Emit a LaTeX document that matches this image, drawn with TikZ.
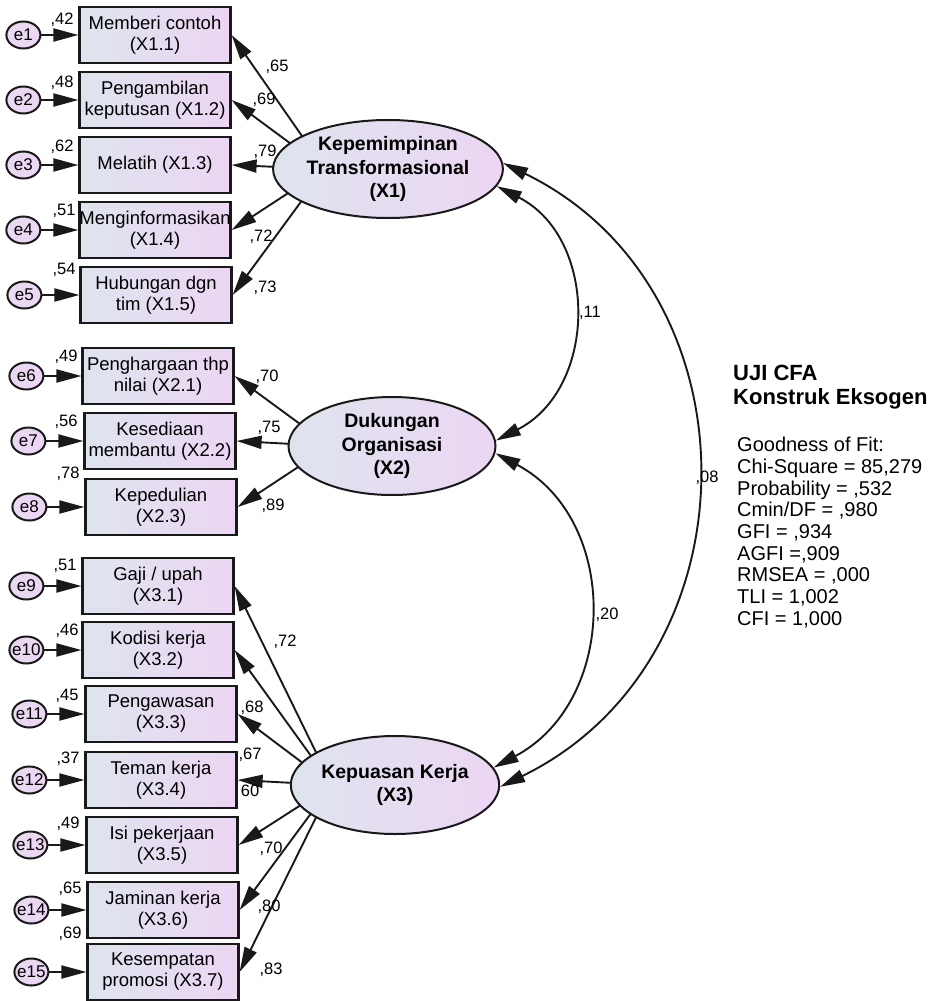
\documentclass[tikz,border=0pt]{standalone}
\usepackage{fontspec}
\setmainfont{Liberation Sans}
\usetikzlibrary{arrows.meta,positioning,shapes.geometric}

\definecolor{leftfill}{RGB}{222,228,238}
\definecolor{rightfill}{RGB}{236,214,243}
\definecolor{edge}{RGB}{25,25,25}

\begin{document}
\begin{tikzpicture}[x=1pt,y=-1pt,
    bigtri/.tip={Triangle[length=25pt,width=13pt]},
    indicator/.style={draw=edge,line width=2.2pt,left color=leftfill,right color=rightfill,
        minimum width=151pt,minimum height=56pt,inner sep=0pt,align=center,
        font=\fontsize{18.5}{21}\selectfont},
    errvar/.style={ellipse,draw=edge,line width=2pt,left color=rightfill!80!leftfill,right color=rightfill,
        minimum width=34pt,minimum height=27pt,inner xsep=-7pt,inner ysep=0pt,
        font=\fontsize{17}{17}\selectfont},
    latent/.style={ellipse,draw=edge,line width=2pt,left color=leftfill,right color=rightfill,
        minimum width=207pt,minimum height=98pt,inner sep=0pt,align=center,
        font=\bfseries\fontsize{19.5}{23.3}\selectfont},
    coef/.style={inner sep=0pt,font=\fontsize{16.5}{16.5}\selectfont},
    errarrow/.style={line width=2pt,draw=edge,-bigtri},
    loading/.style={line width=1.9pt,draw=edge,-bigtri},
    covarc/.style={line width=1.9pt,draw=edge,bigtri-bigtri}]

    \useasboundingbox (0,0) rectangle (937,1001);

    % indicators
    \node[indicator] (b1) at (155,35) {Memberi contoh\\(X1.1)};
    \node[indicator] (b2) at (155,100) {Pengambilan\\keputusan (X1.2)};
    \node[indicator] (b3) at (155,165) {Melatih (X1.3)};
    \node[indicator] (b4) at (155,230) {Menginformasikan\\(X1.4)};
    \node[indicator] (b5) at (156,295) {Hubungan dgn\\tim (X1.5)};
    \node[indicator] (b6) at (158,376) {Penghargaan thp\\nilai (X2.1)};
    \node[indicator] (b7) at (160,441) {Kesediaan\\membantu (X2.2)};
    \node[indicator] (b8) at (161,507) {Kepedulian\\(X2.3)};
    \node[indicator] (b9) at (158,586) {Gaji / upah\\(X3.1)};
    \node[indicator] (b10) at (158,650) {Kodisi kerja\\(X3.2)};
    \node[indicator] (b11) at (161,714) {Pengawasan\\(X3.3)};
    \node[indicator] (b12) at (161,780) {Teman kerja\\(X3.4)};
    \node[indicator] (b13) at (162,845) {Isi pekerjaan\\(X3.5)};
    \node[indicator] (b14) at (163,910) {Jaminan kerja\\(X3.6)};
    \node[indicator] (b15) at (163,972) {Kesempatan\\promosi (X3.7)};

    % error terms
    \node[errvar,left=37pt of b1] (e1) {e1};
    \node[errvar,left=37pt of b2] (e2) {e2};
    \node[errvar,left=37pt of b3] (e3) {e3};
    \node[errvar,left=37pt of b4] (e4) {e4};
    \node[errvar,left=37pt of b5] (e5) {e5};
    \node[errvar,left=37pt of b6] (e6) {e6};
    \node[errvar,left=37pt of b7] (e7) {e7};
    \node[errvar,left=37pt of b8] (e8) {e8};
    \node[errvar,left=37pt of b9] (e9) {e9};
    \node[errvar,left=37pt of b10] (e10) {e10};
    \node[errvar,left=37pt of b11] (e11) {e11};
    \node[errvar,left=37pt of b12] (e12) {e12};
    \node[errvar,left=37pt of b13] (e13) {e13};
    \node[errvar,left=37pt of b14] (e14) {e14};
    \node[errvar,left=37pt of b15] (e15) {e15};

    \draw[errarrow] (e1) -- (b1);
    \draw[errarrow] (e2) -- (b2);
    \draw[errarrow] (e3) -- (b3);
    \draw[errarrow] (e4) -- (b4);
    \draw[errarrow] (e5) -- (b5);
    \draw[errarrow] (e6) -- (b6);
    \draw[errarrow] (e7) -- (b7);
    \draw[errarrow] (e8) -- (b8);
    \draw[errarrow] (e9) -- (b9);
    \draw[errarrow] (e10) -- (b10);
    \draw[errarrow] (e11) -- (b11);
    \draw[errarrow] (e12) -- (b12);
    \draw[errarrow] (e13) -- (b13);
    \draw[errarrow] (e14) -- (b14);
    \draw[errarrow] (e15) -- (b15);

    % loadings start inside the ellipses, which are drawn over them
    \coordinate (f1) at (325,169);
    \coordinate (f2) at (330,446);
    \coordinate (f3) at (332,785);

    \draw[loading] (f1) -- (b1.east);
    \draw[loading] (f1) -- (b2.east);
    \draw[loading] (f1) -- (b3.east);
    \draw[loading] (f1) -- (b4.east);
    \draw[loading] (f1) -- (b5.east);
    \draw[loading] (f2) -- (b6.east);
    \draw[loading] (f2) -- (b7.east);
    \draw[loading] (f2) -- (b8.east);
    \draw[loading] (f3) -- (b9.east);
    \draw[loading] (f3) -- (b10.east);
    \draw[loading] (f3) -- (b11.east);
    \draw[loading] (f3) -- (b12.east);
    \draw[loading] (f3) -- (b13.east);
    \draw[loading] (f3) -- (b14.east);
    \draw[loading] (f3) -- (b15.east);

    % latent variables
    \node[latent] (X1) at (388,169) {Kepemimpinan\\Transformasional\\(X1)};
    \node[latent] (X2) at (392,446) {Dukungan\\Organisasi\\(X2)};
    \node[latent] (X3) at (395,785) {Kepuasan Kerja\\(X3)};

    % covariances
    \draw[covarc] (X1.-9) to[out=-27,in=27,looseness=1.15] (X2.3);
    \draw[covarc] (X2.-4) to[out=-28,in=28,looseness=1.15] (X3.10);
    \draw[covarc] (X1.3) to[out=-26,in=26,looseness=1.18] (X3.-1);

    \node[coef] (r1) at (590,313) {,11};
    \node[coef] (r2) at (607,615) {,20};
    \node[coef] (r3) at (707,478) {,08};

    % factor loadings
    \node[coef] (c1) at (277,67) {,65};
    \node[coef] (c2) at (264,100) {,69};
    \node[coef] (c3) at (265,152) {,79};
    \node[coef] (c4) at (261,237) {,72};
    \node[coef] (c5) at (265,288) {,73};
    \node[coef] (c6) at (267,377) {,70};
    \node[coef] (c7) at (269,428) {,75};
    \node[coef] (c8) at (273,506) {,89};
    \node[coef] (c9) at (285,642) {,72};
    \node[coef] (c11) at (252,708) {,68};
    \node[coef] (c12a) at (250,755) {,67};
    \node[coef] (c12b) at (250,791) {60};
    \node[coef] (c13) at (271,849) {,70};
    \node[coef] (c14) at (269,907) {,80};
    \node[coef] (c15) at (271,970) {,83};

    % squared multiple correlations
    \node[coef] (v1) at (62,20) {,42};
    \node[coef] (v2) at (62,83) {,48};
    \node[coef] (v3) at (62,147) {,62};
    \node[coef] (v4) at (64,211) {,51};
    \node[coef] (v5) at (64,270) {,54};
    \node[coef] (v6) at (66,357) {,49};
    \node[coef] (v7) at (66,422) {,56};
    \node[coef] (v8) at (68,474) {,78};
    \node[coef] (v9) at (65,566) {,51};
    \node[coef] (v10) at (67,631) {,46};
    \node[coef] (v11) at (67,696) {,45};
    \node[coef] (v12) at (68,759) {,37};
    \node[coef] (v13) at (68,824) {,49};
    \node[coef] (v14) at (70,889) {,65};
    \node[coef] (v15) at (70,934) {,69};

    % fit summary
    \node[anchor=north west,align=left,inner sep=0pt,font=\bfseries\fontsize{22}{24}\selectfont] (title) at (733,365) {UJI CFA\\Konstruk Eksogen};
    \node[anchor=north west,align=left,inner sep=0pt,font=\fontsize{20}{21.7}\selectfont] (fit) at (737,437)
        {Goodness of Fit:\\Chi-Square = 85,279\\Probability = ,532\\Cmin/DF = ,980\\GFI = ,934\\AGFI =,909\\RMSEA = ,000\\TLI = 1,002\\CFI = 1,000};

\end{tikzpicture}
\end{document}
